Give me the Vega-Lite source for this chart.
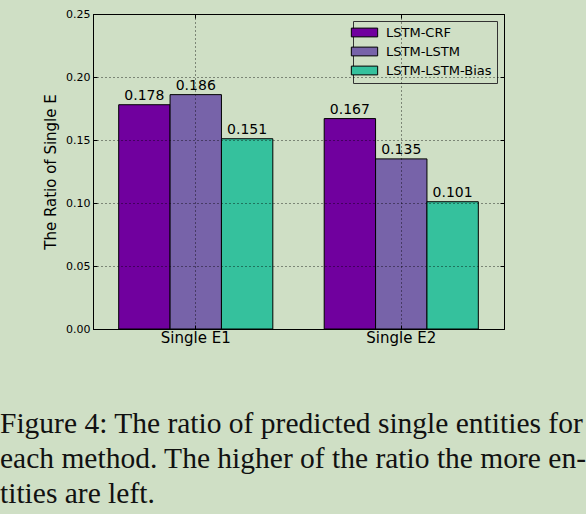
{
  "$schema": "https://vega.github.io/schema/vega-lite/v6.json",
  "autosize": "none",
  "width": 411,
  "height": 315,
  "padding": {"left": 93, "top": 14, "right": 82, "bottom": 185},
  "background": "#cfdfc5",
  "title": {
    "text": [
      "Figure 4: The ratio of predicted single entities for",
      "each method. The higher of the ratio the more en-",
      "tities are left."
    ],
    "orient": "bottom",
    "anchor": "start",
    "frame": "group",
    "font": "Liberation Serif",
    "fontSize": 29.5,
    "fontWeight": "normal",
    "color": "#111111",
    "lineHeight": 35,
    "dx": -93,
    "offset": 65
  },
  "data": {
    "values": [
      {"group": "Single E1", "method": "LSTM-CRF", "ratio": 0.178},
      {"group": "Single E1", "method": "LSTM-LSTM", "ratio": 0.186},
      {"group": "Single E1", "method": "LSTM-LSTM-Bias", "ratio": 0.151},
      {"group": "Single E2", "method": "LSTM-CRF", "ratio": 0.167},
      {"group": "Single E2", "method": "LSTM-LSTM", "ratio": 0.135},
      {"group": "Single E2", "method": "LSTM-LSTM-Bias", "ratio": 0.101}
    ]
  },
  "encoding": {
    "x": {
      "field": "group",
      "type": "nominal",
      "scale": {"paddingInner": 0.25, "paddingOuter": 0.125},
      "title": null
    },
    "xOffset": {"field": "method", "type": "nominal", "scale": {"paddingInner": 0, "paddingOuter": 0}},
    "y": {
      "field": "ratio",
      "type": "quantitative",
      "scale": {"domain": [0, 0.25], "nice": false}
    }
  },
  "layer": [
    {
      "mark": {"type": "bar", "stroke": "#000000", "strokeWidth": 1},
      "encoding": {
        "x": {
          "field": "group",
          "type": "nominal",
          "title": null,
          "axis": {
            "orient": "bottom",
            "labelAngle": 0,
            "labelFont": "DejaVu Sans",
            "labelFontSize": 15,
            "labelColor": "#000000",
            "labelPadding": 5,
            "tickSize": -4,
            "tickColor": "#000000",
            "domainColor": "#000000",
            "grid": true,
            "gridColor": "#000000",
            "gridOpacity": 0.8,
            "gridDash": [1, 3],
            "zindex": 1
          }
        },
        "y": {
          "field": "ratio",
          "type": "quantitative",
          "title": "The Ratio of Single E",
          "axis": {
            "orient": "left",
            "values": [0, 0.05, 0.1, 0.15, 0.2, 0.25],
            "format": ".2f",
            "labelFont": "DejaVu Sans",
            "labelFontSize": 11,
            "labelColor": "#000000",
            "labelPadding": 7,
            "tickSize": -4,
            "tickColor": "#000000",
            "domainColor": "#000000",
            "titleFont": "DejaVu Sans",
            "titleFontSize": 15,
            "titleFontWeight": "normal",
            "titleColor": "#000000",
            "titlePadding": 7,
            "grid": true,
            "gridColor": "#000000",
            "gridOpacity": 0.8,
            "gridDash": [1, 3],
            "zindex": 1
          }
        },
        "color": {
          "field": "method",
          "type": "nominal",
          "title": null,
          "scale": {
            "domain": ["LSTM-CRF", "LSTM-LSTM", "LSTM-LSTM-Bias"],
            "range": ["#70009e", "#7763a9", "#35c19d"]
          },
          "legend": {
            "orient": "top-right",
            "offset": 7,
            "padding": 5,
            "strokeColor": "#333333",
            "fillColor": "#cfdfc5",
            "symbolType": "M-3,-1H3V1H-3Z",
            "symbolSize": 77,
            "symbolStrokeColor": "#000000",
            "symbolStrokeWidth": 1,
            "symbolOpacity": 1,
            "labelFont": "DejaVu Sans",
            "labelFontSize": 13,
            "labelColor": "#000000",
            "labelOffset": 15,
            "rowPadding": 5
          }
        }
      }
    },
    {
      "mark": {
        "type": "text",
        "baseline": "bottom",
        "dy": -2,
        "font": "DejaVu Sans",
        "fontSize": 14,
        "color": "#000000"
      },
      "encoding": {
        "text": {"field": "ratio", "type": "quantitative", "format": ".3f"},
        "x": {
          "field": "group",
          "type": "nominal",
          "title": null,
          "axis": {
            "orient": "top",
            "labels": false,
            "tickSize": -4,
            "tickColor": "#000000",
            "domainColor": "#000000",
            "grid": false
          }
        },
        "y": {
          "field": "ratio",
          "type": "quantitative",
          "title": null,
          "axis": {
            "orient": "right",
            "values": [0, 0.05, 0.1, 0.15, 0.2, 0.25],
            "labels": false,
            "tickSize": -4,
            "tickColor": "#000000",
            "domainColor": "#000000",
            "grid": false
          }
        }
      }
    }
  ],
  "resolve": {"axis": {"x": "independent", "y": "independent"}},
  "config": {
    "view": {"stroke": "#000000", "strokeWidth": 1}
  }
}
